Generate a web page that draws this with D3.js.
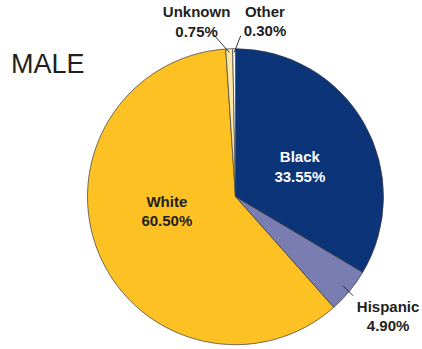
<!DOCTYPE html>
<html>
<head>
<meta charset="utf-8">
<script src="https://cdn.jsdelivr.net/npm/d3@7"></script>
<style>
  body { margin: 0; background: #fff; }
  text { font-family: "Liberation Sans", Arial, Helvetica, sans-serif; }
</style>
</head>
<body>
<svg id="pie" width="422" height="349"></svg>
<script>
// data
var categories = ["Black", "Hispanic", "White", "Unknown", "Other"];
var values = [33.55, 4.90, 60.50, 0.75, 0.30];
var valueLabels = ["33.55%", "4.90%", "60.50%", "0.75%", "0.30%"];
var colors = ["#0b3479", "#797db1", "#fec124", "#fde8a6", "#ffffff"];

var svg = d3.select("#pie"),
    cx = 235.5,
    cy = 196.7,
    radius = 148;

var data = categories.map(function(c, i){
  return {name: c, value: values[i], label: valueLabels[i], color: colors[i]};
});

var pie = d3.pie()
  .sort(null)
  .value(function(d){ return d.value; });

var arc = d3.arc().innerRadius(0).outerRadius(radius);

var arcs = pie(data);

// title
svg.append("text")
  .attr("x", 11)
  .attr("y", 73)
  .style("font-size", "27px")
  .style("fill", "#231f20")
  .text("MALE");

var g = svg.append("g")
  .attr("transform", "translate(" + cx + "," + cy + ")");

g.selectAll("path.slice")
  .data(arcs)
  .enter()
  .append("path")
  .attr("class", "slice")
  .attr("d", arc)
  .style("fill", function(d){ return d.data.color; })
  .style("stroke", "#3a3a3a")
  .style("stroke-width", 0.7);

// label placement: inside labels sit on a centroid radius + nudge,
// outside ones get a short leader line (lineIn = where it starts, ldx/ldy = its length)
var labelPos = {
  "Black":    {r: 0.50, dx: 0,    dy: 6},
  "White":    {r: 0.47, dx: -4.5, dy: -12.6},
  "Hispanic": {r: 1.22, dx: 13.5, dy: 4,   lineIn: 0.944, ldx: 10,    ldy: 10},
  "Unknown":  {r: 1.10, dx: -32,  dy: -13, lineIn: 0.975, ldx: -15.6, ldy: -17.7},
  "Other":    {r: 1.10, dx: 31,   dy: -13, lineIn: 0.975, ldx: 6.6,   ldy: -16.7}
};

function pointAt(angle, r){
  return [Math.sin(angle) * r, -Math.cos(angle) * r];
}

arcs.forEach(function(d){
  var p = labelPos[d.data.name];
  var mid = (d.startAngle + d.endAngle) / 2;
  var c = pointAt(mid, radius * p.r);
  var x = c[0] + p.dx, y = c[1] + p.dy;

  if(p.lineIn){
    var a = pointAt(mid, radius * p.lineIn);
    g.append("line")
      .attr("x1", a[0]).attr("y1", a[1])
      .attr("x2", a[0] + p.ldx).attr("y2", a[1] + p.ldy)
      .style("stroke", "#231f20")
      .style("stroke-width", 0.9);
  }

  var t = g.append("text")
    .attr("text-anchor", "middle")
    .style("font-size", "15px")
    .style("font-weight", "bold")
    .style("fill", d.data.name == "Black" ? "#ffffff" : "#231f20");
  t.append("tspan").attr("x", x).attr("y", y - 4).text(d.data.name);
  t.append("tspan").attr("x", x).attr("y", y + 15.5).text(d.data.label);
});
</script>
</body>
</html>
